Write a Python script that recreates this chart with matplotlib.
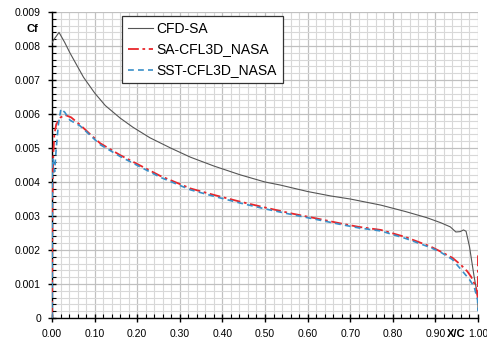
import matplotlib.pyplot as plt
from matplotlib.ticker import MultipleLocator, FuncFormatter

# CFD-SA skin friction
x_cfd = [0.0, 0.005, 0.0165, 0.03, 0.042, 0.05, 0.074, 0.1, 0.125, 0.16, 0.19,
         0.23, 0.28, 0.325, 0.38, 0.442, 0.5, 0.536, 0.6, 0.654, 0.7, 0.772,
         0.83, 0.88, 0.913, 0.935, 0.948, 0.958, 0.966, 0.972, 0.98, 0.991,
         0.9993, 1.0]
cf_cfd = [0.0081, 0.0082, 0.0084, 0.0081, 0.0078, 0.00762, 0.00708, 0.00662,
          0.00625, 0.00588, 0.00561, 0.0053, 0.00499, 0.00473, 0.00447,
          0.00421, 0.0040, 0.00391, 0.00372, 0.00359, 0.0035, 0.00332,
          0.00313, 0.00295, 0.0028, 0.00268, 0.00253, 0.00254, 0.00259,
          0.00255, 0.0021, 0.00121, 0.00063, 0.00025]

# SA-CFL3D_NASA
x_sa = [0.0, 0.001, 0.003, 0.0055, 0.01, 0.02, 0.031, 0.045, 0.066, 0.09,
        0.113, 0.16, 0.2, 0.254, 0.325, 0.38, 0.442, 0.5, 0.56, 0.62, 0.678,
        0.72, 0.772, 0.83, 0.889, 0.913, 0.94, 0.96, 0.975, 0.984, 0.995,
        0.9995, 1.0]
cf_sa = [0.0, 0.0035, 0.0048, 0.0054, 0.0057, 0.0059, 0.00597, 0.0059,
         0.00568, 0.0054, 0.00514, 0.00479, 0.00453, 0.00418, 0.00381,
         0.00362, 0.00342, 0.00325, 0.00308, 0.00293, 0.00278, 0.00268,
         0.00259, 0.00238, 0.0021, 0.00195, 0.00177, 0.00156, 0.00137,
         0.00121, 0.00092, 0.0006, 0.0019]

# SST-CFL3D_NASA
x_sst = [0.0, 0.001, 0.002, 0.004, 0.006, 0.01, 0.015, 0.021, 0.03, 0.042,
         0.066, 0.09, 0.113, 0.16, 0.2, 0.254, 0.325, 0.38, 0.442, 0.5, 0.56,
         0.62, 0.678, 0.72, 0.772, 0.83, 0.889, 0.913, 0.94, 0.968, 0.98,
         0.991, 0.999, 1.0]
cf_sst = [0.0, 0.0045, 0.0047, 0.0045, 0.0043, 0.0050, 0.0057, 0.00615,
          0.00605, 0.00582, 0.00565, 0.00537, 0.0051, 0.00475, 0.00449,
          0.00414, 0.00377, 0.00358, 0.00338, 0.00321, 0.00305, 0.0029,
          0.00275, 0.00265, 0.00256, 0.00234, 0.00207, 0.00193, 0.00172,
          0.00131, 0.00113, 0.00092, 0.00053, 0.0002]

plt.rcParams['font.family'] = ['Liberation Sans', 'DejaVu Sans']

fig = plt.figure(figsize=(4.87, 3.4), dpi=100)
ax = fig.add_axes([52 / 487, 1 - 318 / 340, 426 / 487, 306 / 340])

ax.plot(x_cfd, cf_cfd, color='#555555', lw=0.8, label='CFD-SA', zorder=3)
ax.plot(x_sa, cf_sa, color='#e8262b', lw=1.3, dashes=(6, 2, 1.5, 2),
        label='SA-CFL3D_NASA', zorder=4)
ax.plot(x_sst, cf_sst, color='#3a8fc8', lw=1.2, dashes=(3.5, 2.5),
        label='SST-CFL3D_NASA', zorder=5)

ax.set_xlim(0, 1.0)
ax.set_ylim(0, 0.009)
ax.xaxis.set_major_locator(MultipleLocator(0.1))
ax.xaxis.set_minor_locator(MultipleLocator(0.02))
ax.yaxis.set_major_locator(MultipleLocator(0.001))
ax.yaxis.set_minor_locator(MultipleLocator(0.0002))
ax.xaxis.set_major_formatter(FuncFormatter(lambda v, p: f'{v:.2f}'))
ax.yaxis.set_major_formatter(
    FuncFormatter(lambda v, p: '0' if abs(v) < 1e-9 else f'{v:.3f}'))

ax.grid(which='minor', color='#d8d8d8', lw=0.8)
ax.grid(which='major', color='#c0c0c0', lw=0.9)
ax.set_axisbelow(True)

for s in ['top', 'right']:
    ax.spines[s].set_visible(False)
for s in ['left', 'bottom']:
    ax.spines[s].set_color('black')
    ax.spines[s].set_linewidth(1.0)

ax.tick_params(which='major', direction='inout', length=6, width=1,
               labelsize=7.5, pad=5)
ax.tick_params(which='minor', direction='in', length=3, width=0.8)

fig.text(32 / 487, 1 - 29 / 340, 'Cf', fontsize=8, fontweight='bold',
         ha='center', va='center')
fig.text(456 / 487, 1 - 334 / 340, 'X/C', fontsize=8, fontweight='bold',
         ha='center', va='center')

leg = ax.legend(loc='upper left', bbox_to_anchor=(122 / 487, 1 - 16 / 340),
                bbox_transform=fig.transFigure, borderaxespad=0,
                fancybox=False, framealpha=1, edgecolor='#333333',
                fontsize=10, handlelength=1.8, labelspacing=0.5,
                handletextpad=0.3)
leg.get_frame().set_linewidth(0.9)

fig.savefig('out.png', dpi=100)
